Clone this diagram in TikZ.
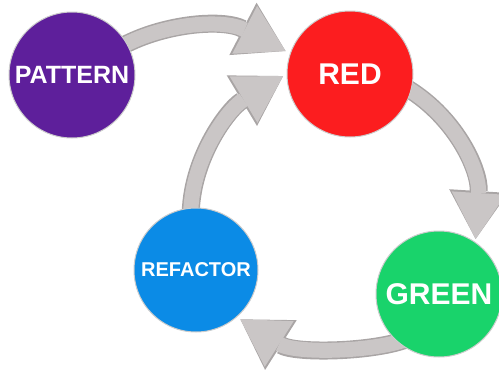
\documentclass[tikz,border=0pt]{standalone}
\usepackage{fontspec}
\setmainfont{Liberation Sans}
\usetikzlibrary{arrows.meta,backgrounds}

\definecolor{purplefill}{HTML}{5E1F9B}
\definecolor{redfill}{HTML}{FC1D1F}
\definecolor{greenfill}{HTML}{19D36B}
\definecolor{bluefill}{HTML}{0B8BE6}
\definecolor{arrowgray}{HTML}{CAC6C6}
\definecolor{arrowedge}{HTML}{A9A5A5}

\tikzset{
  cyclenode/.style={circle, minimum size=126pt, inner sep=0pt, draw=gray!40, line width=1pt, text=white},
  cyclearrow/.style={line width=15pt, draw=arrowgray, shorten <=-10pt,
    -{Triangle[length=46pt, width=54pt, line width=0pt]},
    preaction={draw=arrowedge, line width=18pt, -{Triangle[length=48pt, width=59pt, line width=0pt]}}},
}

\begin{document}
\begin{tikzpicture}[x=1pt, y=-1pt]
        \useasboundingbox (0,0) rectangle (499,370);

        \node[cyclenode, fill=purplefill, font=\bfseries\fontsize{25}{25}\selectfont] (pattern) at (72,75) {PATTERN};
        \node[cyclenode, fill=redfill, font=\bfseries\fontsize{30}{30}\selectfont] (red) at (350,74) {RED};
        \node[cyclenode, minimum size=124pt, fill=bluefill, font=\bfseries\fontsize{20}{20}\selectfont] (refactor) at (196,270) {REFACTOR};
        \node[cyclenode, fill=greenfill, font=\bfseries\fontsize{30}{30}\selectfont] (green) at (439,294) {GREEN};

        % Arrows go behind the circles
        \begin{scope}[on background layer]
            \draw[cyclearrow, shorten >=5pt] (pattern.30) .. controls (160,24) and (222,18) .. (red.161);
            \draw[cyclearrow, shorten >=4pt] (refactor.95) .. controls (190,160) and (228,109) .. (red.180);
            \draw[cyclearrow, shorten >=3pt] (red.-15) .. controls (455,115) and (480,170) .. (green.55);
            \draw[cyclearrow, shorten >=4pt] (green.-130) .. controls (375,352) and (295,354) .. (refactor.-49);
        \end{scope}
    \end{tikzpicture}
\end{document}
